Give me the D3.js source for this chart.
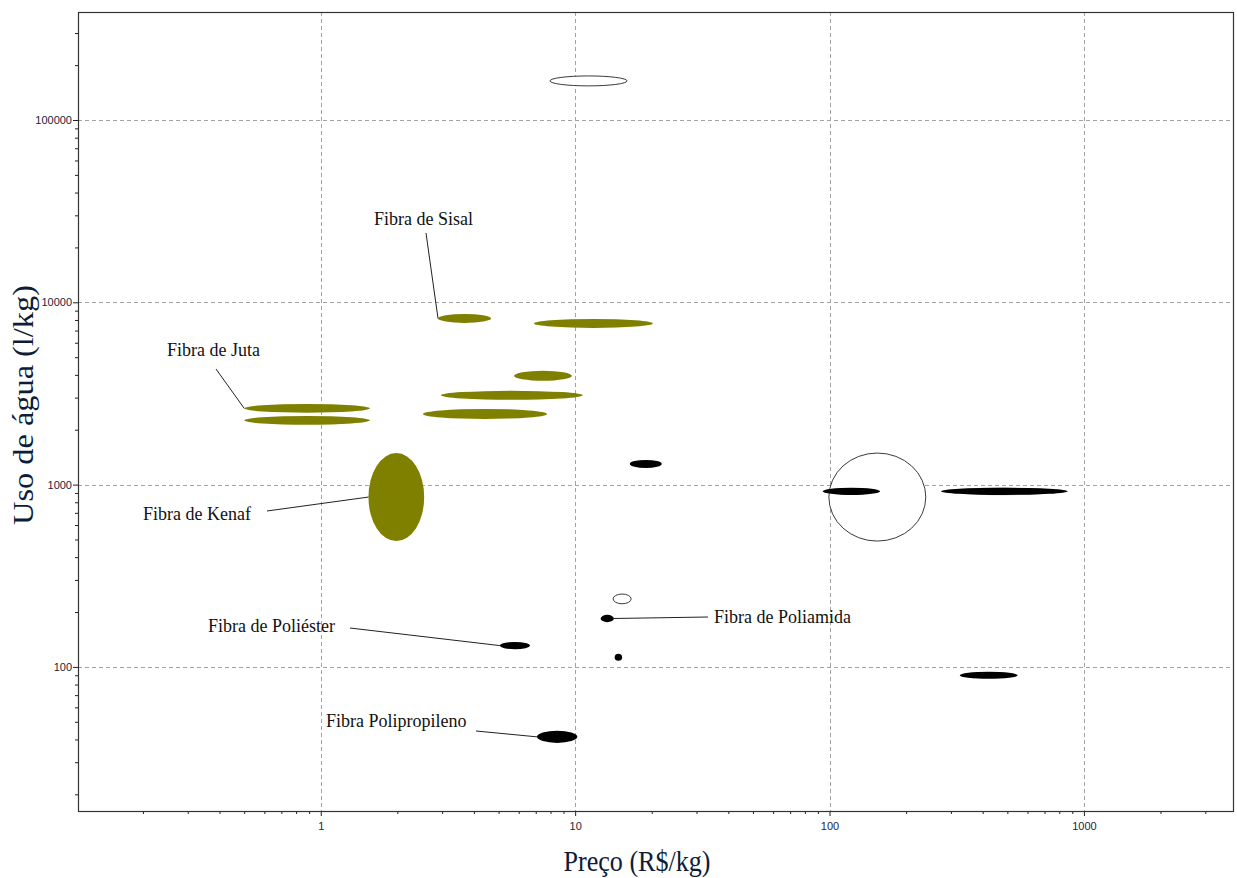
<!DOCTYPE html>
<html>
<head>
<meta charset="utf-8">
<script src="https://cdn.jsdelivr.net/npm/d3@7"></script>
<style>
  html, body { margin: 0; padding: 0; background: #fff; }
  svg { display: block; }
</style>
</head>
<body>
<svg id="chart" width="1237" height="878"></svg>
<script>
// Fibre ranges: price (R$/kg) and water use (l/kg), low and high ends
const fibreIds   = ["juta1", "juta2", "kenaf", "sisal", "nat5", "nat6", "nat7", "nat8",
                    "syn1", "syn2", "syn3", "poliester", "polipropileno", "syn6", "poliamida", "syn8",
                    "open1", "open2", "open3", "open4"];
const fibreKind  = ["natural", "natural", "natural", "natural", "natural", "natural", "natural", "natural",
                    "synthetic", "synthetic", "synthetic", "synthetic", "synthetic", "synthetic", "synthetic", "synthetic",
                    "open", "open", "open", "trace"];
const priceLow   = [0.50, 0.50, 1.54, 2.89, 6.89, 5.75, 2.97, 2.52,
                    16.4, 94, 274, 5.06, 7.08, 325, 12.6, 14.3,
                    7.96, 99.4, 14.1, 300];
const priceHigh  = [1.56, 1.56, 2.55, 4.67, 20.2, 9.71, 10.7, 7.75,
                    21.9, 158, 864, 6.64, 10.2, 549, 14.2, 15.3,
                    16.0, 239, 16.6, 760];
const waterLow   = [2480, 2130, 490, 7710, 7240, 3710, 2920, 2290,
                    1235, 878, 878, 125, 38.3, 86, 176, 108,
                    153900, 490, 222, 880];
const waterHigh  = [2770, 2380, 1490, 8640, 8110, 4210, 3270, 2600,
                    1366, 960, 960, 137, 44.6, 94, 193, 118,
                    174500, 1490, 251, 958];

// Annotations: text and the fibre each leader points at
const labelText   = ["Fibra de Sisal", "Fibra de Juta", "Fibra de Kenaf",
                     "Fibra de Poliéster", "Fibra Polipropileno", "Fibra de Poliamida"];
const labelTarget = ["sisal", "juta1", "kenaf", "poliester", "polipropileno", "poliamida"];

// Axis ticks
const xTickValues = [1, 10, 100, 1000];
const yTickValues = [100, 1000, 10000, 100000];

// Placement of each annotation: text anchor point, leader start, which ellipse tip
const labelLayout = [
  { tx: 374, ty: 225, lx: 426, ly: 233, side: "left" },
  { tx: 167, ty: 356, lx: 216, ly: 369, side: "left" },
  { tx: 143, ty: 520, lx: 267, ly: 511, side: "left" },
  { tx: 208, ty: 632, lx: 350, ly: 628, side: "left" },
  { tx: 326, ty: 727, lx: 476, ly: 731, side: "left" },
  { tx: 714, ty: 623, lx: 708, ly: 617, side: "right" }
];

const svg = d3.select("#chart");
const plot = { left: 78, right: 1233, top: 12, bottom: 811 };

const x = d3.scaleLog().domain([0.1111, 3855]).range([plot.left, plot.right]);
const y = d3.scaleLog().domain([16.2, 391300]).range([plot.bottom, plot.top]);

// minor tick positions (2..9 per decade) inside the domains
function minorTicks(scale) {
  const [a, b] = scale.domain();
  const out = [];
  for (let e = Math.floor(Math.log10(a)); e <= Math.ceil(Math.log10(b)); e++) {
    for (let m = 2; m <= 9; m++) {
      const v = m * Math.pow(10, e);
      if (v >= a && v <= b) out.push(v);
    }
  }
  return out;
}

// grid
const grid = svg.append("g").attr("stroke", "#a3a3a3").attr("stroke-width", 1)
  .attr("stroke-dasharray", "4,3").attr("fill", "none");
grid.selectAll("line.gx").data(xTickValues).join("line")
  .attr("x1", d => Math.round(x(d)) + 0.5).attr("x2", d => Math.round(x(d)) + 0.5)
  .attr("y1", plot.top).attr("y2", plot.bottom);
grid.selectAll("line.gy").data(yTickValues).join("line")
  .attr("y1", d => Math.round(y(d)) + 0.5).attr("y2", d => Math.round(y(d)) + 0.5)
  .attr("x1", plot.left).attr("x2", plot.right);

// axes
const tickColor = "#1d1d3a";
const xMinor = d3.axisBottom(x).tickValues(minorTicks(x).filter(v => !xTickValues.includes(v)))
  .tickSize(3).tickFormat("");
const xMajor = d3.axisBottom(x).tickValues(xTickValues).tickSize(5).tickPadding(6)
  .tickFormat(d3.format("d"));
const yMinor = d3.axisLeft(y).tickValues(minorTicks(y).filter(v => !yTickValues.includes(v)))
  .tickSize(3).tickFormat("");
const yMajor = d3.axisLeft(y).tickValues(yTickValues).tickSize(5).tickPadding(1)
  .tickFormat(d3.format("d"));

function styleAxis(g) {
  g.select(".domain").remove();
  g.selectAll("line").attr("stroke", "#222");
  g.selectAll("text").attr("fill", tickColor)
    .style("font-family", "'Liberation Sans', Arial, sans-serif").style("font-size", "11px");
}
svg.append("g").attr("transform", `translate(0,${plot.bottom})`).call(xMinor).call(styleAxis);
svg.append("g").attr("transform", `translate(0,${plot.bottom})`).call(xMajor).call(styleAxis);
svg.append("g").attr("transform", `translate(${plot.left},0)`).call(yMinor).call(styleAxis);
svg.append("g").attr("transform", `translate(${plot.left},0)`).call(yMajor).call(styleAxis);

// frame
svg.append("rect")
  .attr("x", plot.left + 0.5).attr("y", plot.top + 0.5)
  .attr("width", plot.right - plot.left).attr("height", plot.bottom - plot.top)
  .attr("fill", "none").attr("stroke", "#333").attr("stroke-width", 1.2);

// fibre ellipses
const fibres = fibreIds.map((id, i) => {
  const x0 = x(priceLow[i]), x1 = x(priceHigh[i]);
  const y0 = y(waterLow[i]), y1 = y(waterHigh[i]);
  return { id, kind: fibreKind[i], cx: (x0 + x1) / 2, cy: (y0 + y1) / 2,
           rx: Math.abs(x1 - x0) / 2, ry: Math.abs(y0 - y1) / 2 };
});
const byId = new Map(fibres.map(f => [f.id, f]));

const fillOf = { natural: "#808000", synthetic: "#000", open: "#fff", trace: "none" };
const strokeOf = { natural: "none", synthetic: "none", open: "#3a3a3a", trace: "#b0b0b0" };
// the faint outline sits beneath the black marks so only its tip shows
const order = ["open", "natural", "trace", "synthetic"];

svg.append("g").selectAll("ellipse")
  .data(fibres.slice().sort((a, b) => order.indexOf(a.kind) - order.indexOf(b.kind)))
  .join("ellipse")
  .attr("cx", d => d.cx).attr("cy", d => d.cy)
  .attr("rx", d => d.rx).attr("ry", d => d.ry)
  .attr("fill", d => fillOf[d.kind])
  .attr("stroke", d => strokeOf[d.kind])
  .attr("stroke-width", 1);

// annotations with leader lines
const notes = svg.append("g");
labelText.forEach((t, i) => {
  const f = byId.get(labelTarget[i]);
  const L = labelLayout[i];
  const ex = L.side === "left" ? f.cx - f.rx : f.cx + f.rx;
  notes.append("line")
    .attr("x1", L.lx).attr("y1", L.ly).attr("x2", ex).attr("y2", f.cy)
    .attr("stroke", "#222").attr("stroke-width", 1);
  notes.append("text")
    .attr("x", L.tx).attr("y", L.ty)
    .attr("fill", "#111")
    .style("font-family", "'Liberation Serif', 'Times New Roman', serif")
    .style("font-size", "18px")
    .text(t);
});

// axis titles
svg.append("text")
  .attr("x", 637).attr("y", 871)
  .attr("text-anchor", "middle")
  .attr("textLength", 147).attr("lengthAdjust", "spacingAndGlyphs")
  .attr("fill", "#0e1c38")
  .style("font-family", "'Liberation Serif', 'Times New Roman', serif")
  .style("font-size", "30px")
  .text("Preço (R$/kg)");

svg.append("text")
  .attr("transform", "translate(33,405) rotate(-90)")
  .attr("text-anchor", "middle")
  .attr("textLength", 240).attr("lengthAdjust", "spacingAndGlyphs")
  .attr("fill", "#0e1c38")
  .style("font-family", "'Liberation Serif', 'Times New Roman', serif")
  .style("font-size", "30px")
  .text("Uso de água (l/kg)");
</script>
</body>
</html>
